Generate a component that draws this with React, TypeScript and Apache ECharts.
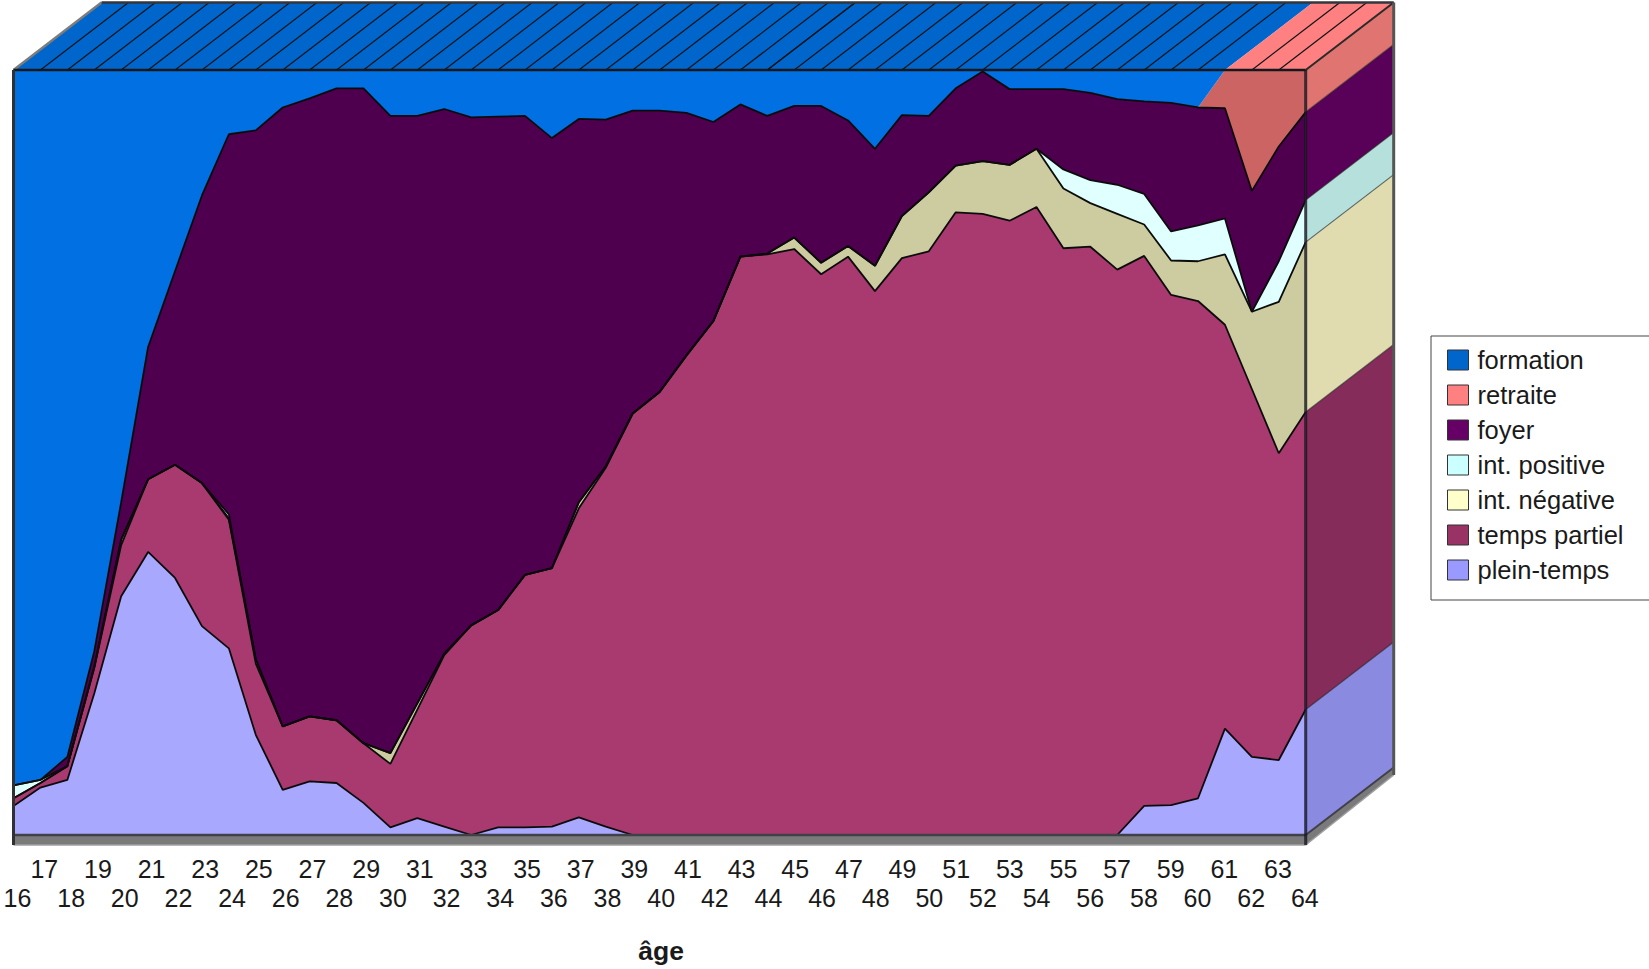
import React, { useEffect, useRef } from "react";
import * as echarts from "echarts";

// Ages 16 to 64, one category per year
const ages = [
  16, 17, 18, 19, 20, 21, 22, 23, 24, 25, 26, 27, 28, 29, 30, 31, 32, 33, 34, 35, 36, 37, 38, 39, 40,
  41, 42, 43, 44, 45, 46, 47, 48, 49, 50, 51, 52, 53, 54, 55, 56, 57, 58, 59, 60, 61, 62, 63, 64,
];

// Share of each activity status per age, in percent
const pleinTemps = [
  3.8, 6.2, 7.2, 18.5, 31.2, 37, 33.6, 27.3, 24.4, 13.1, 5.9, 7, 6.8, 4.2, 1, 2.2, 1.1, 0, 1, 1, 1.1, 2.3, 1.1, 0, 0,
  0, 0, 0, 0, 0, 0, 0, 0, 0, 0, 0, 0, 0, 0, 0, 0, 0, 3.8, 3.9, 4.8, 13.9, 10.2, 9.8, 16.4,
];
const tempsPartiel = [
  1, 0.6, 1.8, 3.3, 6.7, 9.5, 14.8, 18.7, 16.8, 9.3, 8.3, 8.5, 8.2, 7.8, 8.3, 14.2, 22.4, 27.4, 28.4, 33, 33.8, 40.4, 46.9, 55.1, 57.9,
  62.7, 67.2, 75.6, 75.9, 76.6, 73.3, 75.6, 71.1, 75.4, 76.3, 81.4, 81.2, 80.3, 82.1, 76.7, 76.9, 73.9, 71.9, 66.7, 65, 52.8, 48.1, 40.1, 38.9,
];
const intNegative = [
  0, 0, 0, 0.2, 0.7, 0, 0, 0, 0.2, 0.6, 0, 0, 0, 0, 1.4, 0.8, 0.2, 0, 0, 0, 0, 0.8, 0.2, 0, 0,
  0, 0, 0, 0.1, 1.5, 1.5, 1.4, 3.3, 5.5, 7.7, 6.1, 6.9, 7.3, 7.6, 7.8, 5.7, 7.3, 4.1, 4.5, 5.2, 9.2, 10.1, 19.8, 22.2,
];
const intPositive = [
  1.7, 0.4, 0, 0, 0, 0, 0, 0, 0.5, 0, 0, 0, 0, 0, 0, 0, 0, 0, 0, 0, 0, 0, 0, 0, 0,
  0, 0, 0, 0, 0, 0, 0, 0, 0, 0, 0, 0, 0, 0, 2.5, 3, 3.8, 4, 3.8, 4.7, 4.7, 0, 5.3, 5.5,
];
const foyer = [
  0, 0, 1.2, 2, 4.9, 17.3, 25.3, 37.6, 49.7, 69.1, 80.9, 80.8, 82.6, 85.6, 83.3, 76.8, 71.2, 66.4, 64.5, 60, 56.2, 50.1, 45.3, 39.6, 36.8,
  31.7, 26, 19.9, 18, 17.2, 20.5, 16.4, 15.3, 13.2, 10, 10.1, 11.7, 9.9, 7.8, 10.5, 11.4, 11.2, 12.1, 16.8, 15.4, 14.4, 15.8, 15, 11.5,
];
const retraite = [
  0, 0, 0, 0, 0, 0, 0, 0, 0, 0, 0, 0, 0, 0, 0, 0, 0, 0, 0, 0, 0, 0, 0, 0, 0,
  0, 0, 0, 0, 0, 0, 0, 0, 0, 0, 0, 0, 0, 0, 0, 0, 0, 0, 0, 0, 5, 15.8, 10, 5.5,
];
const formation = [
  93.5, 92.8, 89.8, 76, 56.5, 36.2, 26.3, 16.4, 8.4, 7.9, 4.9, 3.7, 2.4, 2.4, 6, 6, 5.1, 6.2, 6.1, 6, 8.9, 6.4, 6.5, 5.3, 5.3,
  5.6, 6.8, 4.5, 6, 4.7, 4.7, 6.6, 10.3, 5.9, 6, 2.4, 0.2, 2.5, 2.5, 2.5, 3, 3.8, 4.1, 4.3, 4.9, 0, 0, 0, 0,
];

// Legend order, top to bottom
const legendNames = ["formation", "retraite", "foyer", "int. positive", "int. négative", "temps partiel", "plein-temps"];
const legendColors = ["#0066cc", "#ff8080", "#660066", "#ccffff", "#ffffcc", "#993366", "#9999ff"];

// Stacking order, bottom to top
const layers = [
  { name: "plein-temps", values: pleinTemps, front: "#a8a8ff", side: "#8a8ae0", outlined: true },
  { name: "temps partiel", values: tempsPartiel, front: "#a83a70", side: "#862c5a", outlined: true },
  { name: "int. négative", values: intNegative, front: "#cccca0", side: "#e0dcb0", outlined: true },
  { name: "int. positive", values: intPositive, front: "#e0ffff", side: "#b5e0dc", outlined: true },
  { name: "foyer", values: foyer, front: "#4e004e", side: "#590059", outlined: true },
  { name: "retraite", values: retraite, front: "#cc6464", side: "#e07470", outlined: false },
  { name: "formation", values: formation, front: "#0070e2", side: "#0066cc", outlined: false },
];

// Extrusion of the block, and the facet seams on its lid (in age units)
const DEPTH_X = 88;
const DEPTH_Y = -67.5;
const FLOOR_FRONT = 10;
const FLOOR_BACK = 7.5;
const lidSeams = [...ages.filter((a) => a !== 60 && a !== 61 && a !== 16 && a !== 64), 44.37, 59.6];
const lidSplitAge = 61;

const renderBlock = (_params: any, api: any) => {
  const at = (age: number, v: number) => api.coord([age - 16, v]);
  const back = (p: number[]) => [p[0] + DEPTH_X, p[1] + DEPTH_Y];
  const children: any[] = [];
  const poly = (points: number[][], fill: string) =>
    children.push({ type: "polygon", shape: { points }, style: { fill, stroke: "none" } });
  const seg = (a: number[], b: number[], stroke: string, lineWidth: number) =>
    children.push({ type: "line", shape: { x1: a[0], y1: a[1], x2: b[0], y2: b[1] }, style: { stroke, lineWidth } });

  const lastIdx = ages.length - 1;
  const lastAge = ages[lastIdx];

  // Lid of the block
  const lidLeft = at(16, 100);
  const lidSplit = at(lidSplitAge, 100);
  const lidRight = at(lastAge, 100);
  poly([lidLeft, lidSplit, back(lidSplit), back(lidLeft)], "#0066cc");
  poly([lidSplit, lidRight, back(lidRight), back(lidSplit)], "#ff8080");
  lidSeams.forEach((a) => {
    const p = at(a, 100);
    seg(p, back(p), "#101418", 1.2);
  });

  // Right-hand side of the block, one band per stacked layer
  let sum = 0;
  const cuts: number[][] = [];
  layers.forEach((l) => {
    const v = l.values[lastIdx];
    if (v > 0) {
      const lo = at(lastAge, sum);
      const hi = at(lastAge, sum + v);
      poly([lo, hi, back(hi), back(lo)], l.side);
      cuts.push(hi);
    }
    sum += v;
  });
  cuts.slice(0, -1).forEach((p) => seg(p, back(p), "rgba(30,30,30,0.65)", 1.2));

  // Floor slab
  const base0 = at(16, 0);
  const base1 = at(lastAge, 0);
  const baseBack = back(base1);
  const front = (p: number[]) => [p[0], p[1] + FLOOR_FRONT];
  const rear = [baseBack[0], baseBack[1] + FLOOR_BACK];
  poly([base0, base1, front(base1), front(base0)], "#7a7a7a");
  poly([base1, baseBack, rear, front(base1)], "#7a7a7a");
  seg(base0, base1, "#404048", 2.5);
  seg(front(base0), front(base1), "#a0a0a0", 1.5);
  seg(base1, baseBack, "#404048", 2);
  seg(front(base1), rear, "#a0a0a0", 1.5);

  // Outline of the block
  seg(lidLeft, back(lidLeft), "#7c7c7c", 2.5);
  seg(lidLeft, lidRight, "#14181c", 2.5);
  seg(back(lidLeft), back(lidRight), "#33363a", 2.5);
  seg(lidRight, back(lidRight), "#2a2a2a", 2);
  seg(lidLeft, front(base0), "#303030", 3);
  seg(lidRight, front(base1), "rgba(20,20,30,0.8)", 3);
  seg(back(lidRight), rear, "#555555", 3);

  return { type: "group", children };
};

export default function App() {
  const ref = useRef<HTMLDivElement>(null);

  useEffect(() => {
    const chart = echarts.init(ref.current!, undefined, { renderer: "svg" });
    chart.setOption({
      animation: false,
      backgroundColor: "#ffffff",
      grid: [
        { left: 13.5, top: 70, width: 1292.2, height: 765, containLabel: false, outerBoundsMode: "none" },
        // The age scale sits slightly inside the block's front face
        { left: 17.5, top: 70, width: 1287.3, height: 765, containLabel: false, outerBoundsMode: "none" },
      ],
      xAxis: [
        {
          type: "category",
          gridIndex: 0,
          boundaryGap: false,
          data: ages.map(String),
          axisLine: { show: false },
          axisTick: { show: false },
          axisLabel: { show: false },
        },
        {
          type: "category",
          gridIndex: 1,
          boundaryGap: false,
          data: ages.map(String),
          name: "âge",
          nameLocation: "middle",
          nameGap: 102,
          nameTextStyle: { fontFamily: "Liberation Sans", fontSize: 26.5, fontWeight: "bold", color: "#1a1a1a" },
          axisLine: { show: false },
          axisTick: { show: false },
          axisLabel: {
            interval: 0,
            hideOverlap: false,
            margin: 19,
            fontFamily: "Liberation Sans",
            fontSize: 25,
            lineHeight: 29,
            color: "#1a1a1a",
            formatter: (v: string) => (Number(v) % 2 === 0 ? `\n${v}` : v),
          },
        },
      ],
      yAxis: [
        { type: "value", gridIndex: 0, min: 0, max: 100, show: false },
        { type: "value", gridIndex: 1, min: 0, max: 100, show: false },
      ],
      legend: {
        left: 1431,
        top: 336,
        orient: "vertical",
        align: "left",
        padding: [11, 40, 17, 16],
        itemWidth: 21,
        itemHeight: 20,
        itemGap: 9,
        borderColor: "#444444",
        borderWidth: 1,
        backgroundColor: "#ffffff",
        selectedMode: false,
        textStyle: { fontFamily: "Liberation Sans", fontSize: 25.5, lineHeight: 20, color: "#1a1a1a", padding: [0, 0, 0, 4] },
        data: legendNames.map((name, i) => ({
          name,
          icon: "rect",
          itemStyle: { color: legendColors[i], borderColor: "#333333", borderWidth: 1 },
        })),
      },
      series: [
        ...layers.map((l) => ({
          name: l.name,
          type: "line",
          xAxisIndex: 0,
          yAxisIndex: 0,
          stack: "statut",
          data: l.values,
          symbol: "none",
          smooth: false,
          lineStyle: l.outlined ? { color: "#0c0c0c", width: 1.8 } : { width: 0, opacity: 0 },
          itemStyle: { color: l.front },
          areaStyle: { color: l.front, opacity: 1 },
          emphasis: { disabled: true },
        })),
        {
          type: "custom",
          name: "bloc",
          xAxisIndex: 0,
          yAxisIndex: 0,
          silent: true,
          z: 5,
          clip: false,
          data: [[0, 0]],
          encode: { x: 0, y: 1 },
          renderItem: renderBlock,
        },
      ],
    });
    return () => chart.dispose();
  }, []);

  return <div ref={ref} style={{ position: "absolute", left: 0, top: 0, width: 1649, height: 969 }} />;
}
